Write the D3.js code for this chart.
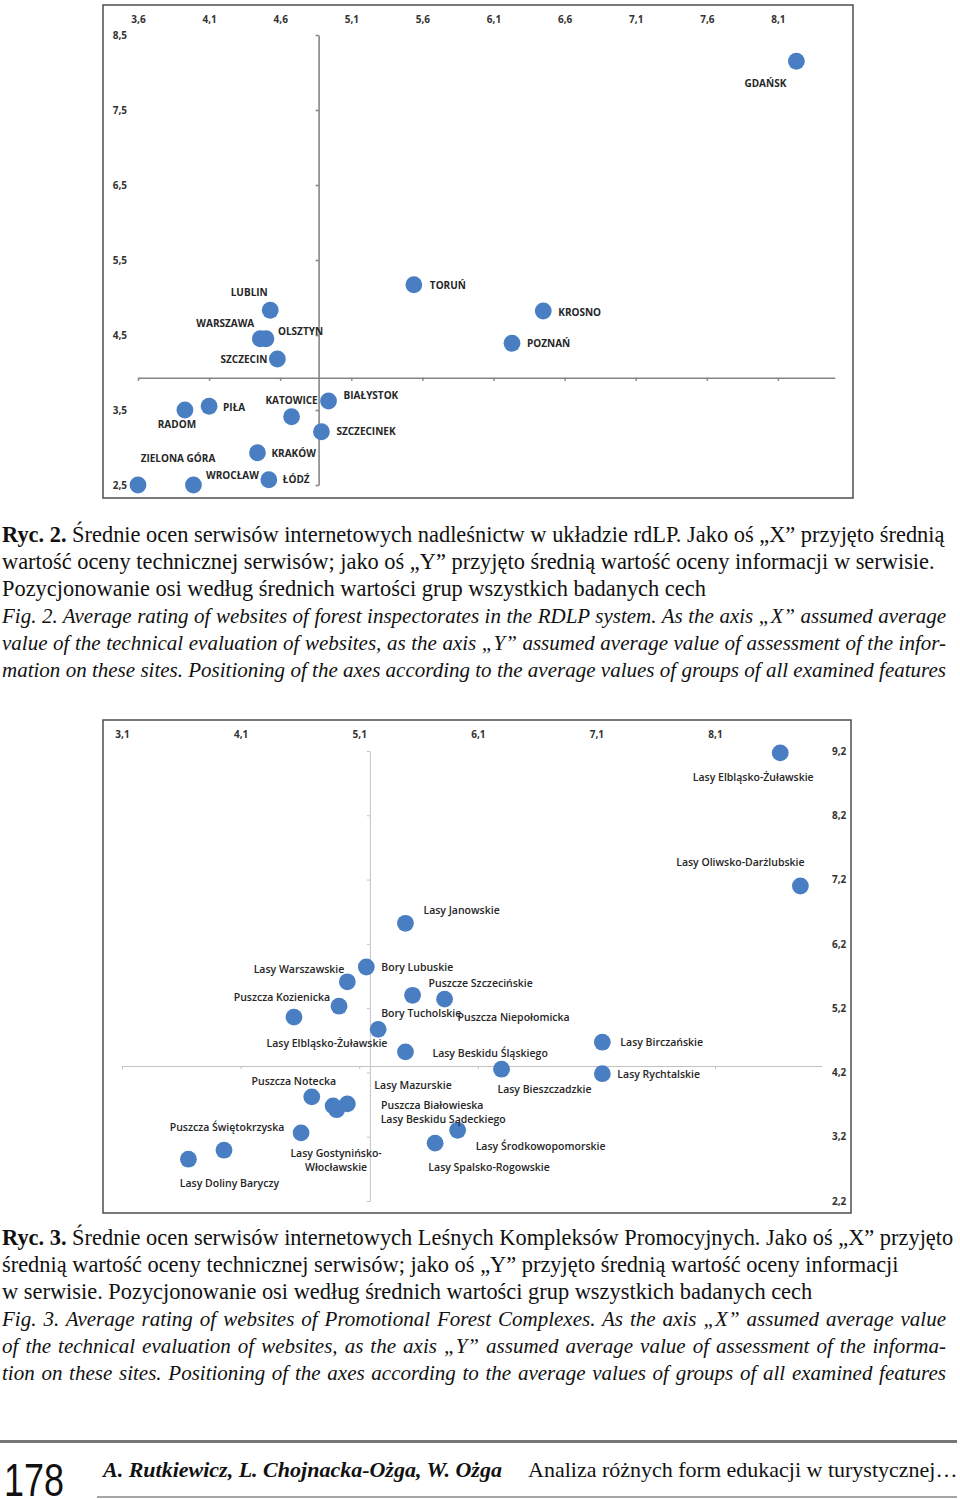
<!DOCTYPE html>
<meta charset="utf-8">
<style>
body { margin: 0; background: #fff; }
svg { display: block; }
.frame { fill: none; stroke: #4d4d4d; stroke-width: 1.5px; }
.tick-lbl text { font: 700 10px "Open Sans", sans-serif; fill: #333; }
.tick-lbl .domain { display: none; }
.pt-lbl { font: 700 10px "Open Sans", sans-serif; fill: #262626; }
.bot .pt-lbl { font-size: 10.5px; font-weight: 600; }
.top .cross path, .top .cross line { stroke: #858585; stroke-width: 1.6px; }
.bot .cross path, .bot .cross line { stroke: #c2c2c2; stroke-width: 1px; }
.dot { fill: #4a7ec3; }
.cap { font: 22.4px "Liberation Serif", serif; fill: #111; }
.cap.it { font-size: 21px; font-style: italic; }
</style>
<body>
<script src="https://cdnjs.cloudflare.com/ajax/libs/d3/7.8.5/d3.min.js"></script>
<script>

// --- Ryc. 2: RDLP (x = technical rating, y = information rating)
var rdlpNames = ["GDAŃSK","TORUŃ","KROSNO","POZNAŃ","LUBLIN","WARSZAWA","OLSZTYN","SZCZECIN",
  "BIAŁYSTOK","KATOWICE","PIŁA","RADOM","SZCZECINEK","KRAKÓW","ZIELONA GÓRA","WROCŁAW","ŁÓDŹ"];
var rdlpX = [8.23, 5.54, 6.45, 6.23, 4.53, 4.46, 4.50, 4.58, 4.94, 4.68, 4.10, 3.93, 4.89, 4.44, 3.60, 3.99, 4.52];
var rdlpY = [8.15, 5.17, 4.82, 4.39, 4.83, 4.45, 4.45, 4.18, 3.62, 3.41, 3.55, 3.50, 3.21, 2.93, 2.50, 2.50, 2.57];
var rdlpXTicks = [3.6, 4.1, 4.6, 5.1, 5.6, 6.1, 6.6, 7.1, 7.6, 8.1];
var rdlpYTicks = [8.5, 7.5, 6.5, 5.5, 4.5, 3.5, 2.5];
var rdlpMeanX = 4.87, rdlpMeanY = 3.93;

// --- Ryc. 3: LKP
var lkpNames = ["Lasy Elbląsko-Żuławskie","Lasy Oliwsko-Darżlubskie","Lasy Janowskie","Bory Lubuskie",
  "Lasy Warszawskie","Puszcze Szczecińskie","Puszcza Niepołomicka","Puszcza Kozienicka",
  "Lasy Elbląsko-Żuławskie ","Bory Tucholskie","Lasy Beskidu Śląskiego","Lasy Birczańskie",
  "Lasy Rychtalskie","Lasy Bieszczadzkie","Puszcza Notecka","Lasy Mazurskie","Puszcza Białowieska",
  "Lasy Beskidu Sądeckiego","Lasy Gostynińsko-\nWłocławskie","Puszcza Świętokrzyska",
  "Lasy Doliny Baryczy","Lasy Środkowopomorskie","Lasy Spalsko-Rogowskie"];
var lkpX = [8.65, 8.82, 5.49, 5.16, 5.00, 5.55, 5.82, 4.93, 4.55, 5.26, 5.49, 7.15,
  7.15, 6.30, 4.70, 5.00, 4.88, 4.91, 4.61, 3.96, 3.66, 5.93, 5.74];
var lkpY = [9.17, 7.10, 6.52, 5.84, 5.61, 5.40, 5.34, 5.23, 5.06, 4.87, 4.52, 4.67,
  4.18, 4.25, 3.82, 3.71, 3.68, 3.62, 3.26, 2.99, 2.85, 3.30, 3.10];
var lkpXTicks = [3.1, 4.1, 5.1, 6.1, 7.1, 8.1];
var lkpYTicks = [9.2, 8.2, 7.2, 6.2, 5.2, 4.2, 3.2, 2.2];
var lkpMeanX = 5.19, lkpMeanY = 4.30;

// label placement relative to the dot: [dx, dy, anchor]
var rdlpLabelPos = {
  "GDAŃSK": [-31, 22, "middle"], "TORUŃ": [16, 1, "start"], "KROSNO": [15, 1, "start"],
  "POZNAŃ": [15, 0, "start"], "LUBLIN": [-21, -18, "middle"], "WARSZAWA": [-35, -15, "middle"],
  "OLSZTYN": [12, -7, "start"], "SZCZECIN": [-10, 0, "end"], "BIAŁYSTOK": [15, -6, "start"],
  "KATOWICE": [0, -16, "middle"], "PIŁA": [14, 1, "start"], "RADOM": [-8, 14, "middle"],
  "SZCZECINEK": [15, 0, "start"], "KRAKÓW": [14, 1, "start"], "ZIELONA GÓRA": [40, -27, "middle"],
  "WROCŁAW": [39, -10, "middle"], "ŁÓDŹ": [14, 0, "start"]
};
var lkpLabelPos = {
  "Lasy Elbląsko-Żuławskie": [-27, 24, "middle"], "Lasy Oliwsko-Darżlubskie": [-60, -24, "middle"],
  "Lasy Janowskie": [18, -13, "start"], "Bory Lubuskie": [15, 0, "start"],
  "Lasy Warszawskie": [-3, -12, "end"], "Puszcze Szczecińskie": [16, -12, "start"],
  "Puszcza Niepołomicka": [13, 18, "start"], "Puszcza Kozienicka": [-9, -9, "end"],
  "Lasy Elbląsko-Żuławskie ": [33, 26, "middle"], "Bory Tucholskie": [3, -16, "start"],
  "Lasy Beskidu Śląskiego": [27, 1, "start"], "Lasy Birczańskie": [18, 0, "start"],
  "Lasy Rychtalskie": [15, 1, "start"], "Lasy Bieszczadzkie": [43, 20, "middle"],
  "Puszcza Notecka": [-18, -16, "middle"], "Lasy Mazurskie": [27, -19, "start"],
  "Puszcza Białowieska": [48, -1, "start"], "Lasy Beskidu Sądeckiego": [44, 10, "start"],
  "Lasy Gostynińsko-\nWłocławskie": [35, 20, "middle"], "Puszcza Świętokrzyska": [3, -23, "middle"],
  "Lasy Doliny Baryczy": [41, 24, "middle"], "Lasy Środkowopomorskie": [18, 16, "start"],
  "Lasy Spalsko-Rogowskie": [54, 24, "middle"]
};

var cap1 = [
  ["b", "Ryc. 2. ", "Średnie ocen serwisów internetowych nadleśnictw w układzie rdLP. Jako oś „X” przyjęto średnią"],
  ["", "", "wartość oceny technicznej serwisów; jako oś „Y” przyjęto średnią wartość oceny informacji w serwisie."],
  ["", "", "Pozycjonowanie osi według średnich wartości grup wszystkich badanych cech"],
  ["i", "", "Fig. 2. Average rating of websites of forest inspectorates in the RDLP system. As the axis „X” assumed average"],
  ["i", "", "value of the technical evaluation of websites, as the axis „Y” assumed average value of assessment of the infor-"],
  ["i", "", "mation on these sites. Positioning of the axes according to the average values of groups of all examined features"]
];
var cap2 = [
  ["b", "Ryc. 3. ", "Średnie ocen serwisów internetowych Leśnych Kompleksów Promocyjnych. Jako oś „X” przyjęto"],
  ["", "", "średnią wartość oceny technicznej serwisów; jako oś „Y” przyjęto średnią wartość oceny informacji"],
  ["", "", "w serwisie. Pozycjonowanie osi według średnich wartości grup wszystkich badanych cech"],
  ["i", "", "Fig. 3. Average rating of websites of Promotional Forest Complexes. As the axis „X” assumed average value"],
  ["i", "", "of the technical evaluation of websites, as the axis „Y” assumed average value of assessment of the informa-"],
  ["i", "", "tion on these sites. Positioning of the axes according to the average values of groups of all examined features"]
];

var fmt = d3.formatLocale({decimal: ",", thousands: " ", grouping: [3], currency: ["", ""]}).format(".1f");

var svg = d3.select("body").append("svg")
    .attr("width", 960)
    .attr("height", 1499);

function scatter(cls, frame, xs, ys, names, x, y, xTicks, yTicks, meanX, meanY, pos, xLblY, yLblX, yLblRight) {
  var g = svg.append("g").attr("class", cls);

  g.append("rect").attr("class", "frame")
    .attr("x", frame[0]).attr("y", frame[1]).attr("width", frame[2]).attr("height", frame[3]);

  // crossing axes at the means
  g.append("g").attr("class", "cross")
    .attr("transform", "translate(0," + y(meanY) + ")")
    .call(d3.axisBottom(x).tickValues(xTicks).tickSize(3).tickSizeOuter(0).tickFormat(""));
  g.append("g").attr("class", "cross")
    .attr("transform", "translate(" + x(meanX) + ",0)")
    .call(d3.axisLeft(y).tickValues(yTicks).tickSize(3).tickSizeOuter(0).tickFormat(""));

  // tick labels on the frame edges
  g.append("g").attr("class", "tick-lbl")
    .attr("transform", "translate(0," + xLblY + ")")
    .call(d3.axisTop(x).tickValues(xTicks).tickSize(0).tickPadding(0).tickFormat(fmt));
  var ya = yLblRight ? d3.axisRight(y) : d3.axisLeft(y);
  g.append("g").attr("class", "tick-lbl")
    .attr("transform", "translate(" + yLblX + ",0)")
    .call(ya.tickValues(yTicks).tickSize(0).tickPadding(0).tickFormat(fmt));

  g.selectAll("circle.dot").data(names).enter().append("circle")
    .attr("class", "dot")
    .attr("cx", function(d, i) { return x(xs[i]); })
    .attr("cy", function(d, i) { return y(ys[i]); })
    .attr("r", 8.4);

  var t = g.selectAll("text.pt-lbl").data(names).enter().append("text")
    .attr("class", "pt-lbl")
    .attr("x", function(d, i) { return x(xs[i]) + pos[d][0]; })
    .attr("y", function(d, i) { return y(ys[i]) + pos[d][1]; })
    .attr("text-anchor", function(d) { return pos[d][2]; });
  t.each(function(d) {
    var lines = d.trim().split("\n"), el = d3.select(this);
    lines.forEach(function(s, k) {
      el.append("tspan").attr("x", el.attr("x"))
        .attr("dy", k == 0 ? "0.35em" : "1.4em").text(s);
    });
  });
}

var x1 = d3.scaleLinear().domain([3.6, 8.5]).range([138, 138 + 4.9 * 142.2]);
var y1 = d3.scaleLinear().domain([2.5, 8.5]).range([485, 35]);
scatter("top", [103, 5, 750, 493], rdlpX, rdlpY, rdlpNames, x1, y1, rdlpXTicks, rdlpYTicks,
  rdlpMeanX, rdlpMeanY, rdlpLabelPos, 23, 127, false);

var x2 = d3.scaleLinear().domain([3.1, 9.0]).range([122, 122 + 5.9 * 118.6]);
var y2 = d3.scaleLinear().domain([2.2, 9.2]).range([1201, 751]);
scatter("bot", [103, 720, 748, 493], lkpX, lkpY, lkpNames, x2, y2, lkpXTicks, lkpYTicks,
  lkpMeanX, lkpMeanY, lkpLabelPos, 738, 832, true);

// captions; the italic English lines are justified to the column width
function caption(lines, y0) {
  lines.forEach(function(l, k) {
    var t = svg.append("text").attr("class", "cap" + (l[0] == "i" ? " it" : ""))
      .attr("x", 2).attr("y", y0 + k * 26.9);
    if (l[1]) t.append("tspan").attr("font-weight", "bold").text(l[1]);
    t.append("tspan").text(l[2]);
    if (l[0] == "i") {
      var w = t.node().getComputedTextLength(), gaps = l[2].split(" ").length - 1;
      if (w < 944) t.attr("word-spacing", (944 - w) / gaps);
    }
  });
}
caption(cap1, 542);
caption(cap2, 1245);

// running footer
svg.append("line").attr("x1", 0).attr("x2", 957).attr("y1", 1441.5).attr("y2", 1441.5)
  .attr("stroke", "#777").attr("stroke-width", 3);
svg.append("line").attr("x1", 97).attr("x2", 957).attr("y1", 1497).attr("y2", 1497)
  .attr("stroke", "#888").attr("stroke-width", 1.5);
svg.append("text").attr("x", 4).attr("y", 1496)
  .attr("textLength", 60).attr("lengthAdjust", "spacingAndGlyphs")
  .style("font", "47px 'Liberation Sans', sans-serif").style("fill", "#111").text("178");
svg.append("text").attr("x", 103).attr("y", 1477)
  .style("font", "italic bold 22px 'Liberation Serif', serif").style("fill", "#111")
  .text("A. Rutkiewicz, L. Chojnacka-Ożga, W. Ożga");
svg.append("text").attr("x", 528).attr("y", 1477)
  .style("font", "22px 'Liberation Serif', serif").style("fill", "#111")
  .text("Analiza różnych form edukacji w turystycznej…");

</script>
